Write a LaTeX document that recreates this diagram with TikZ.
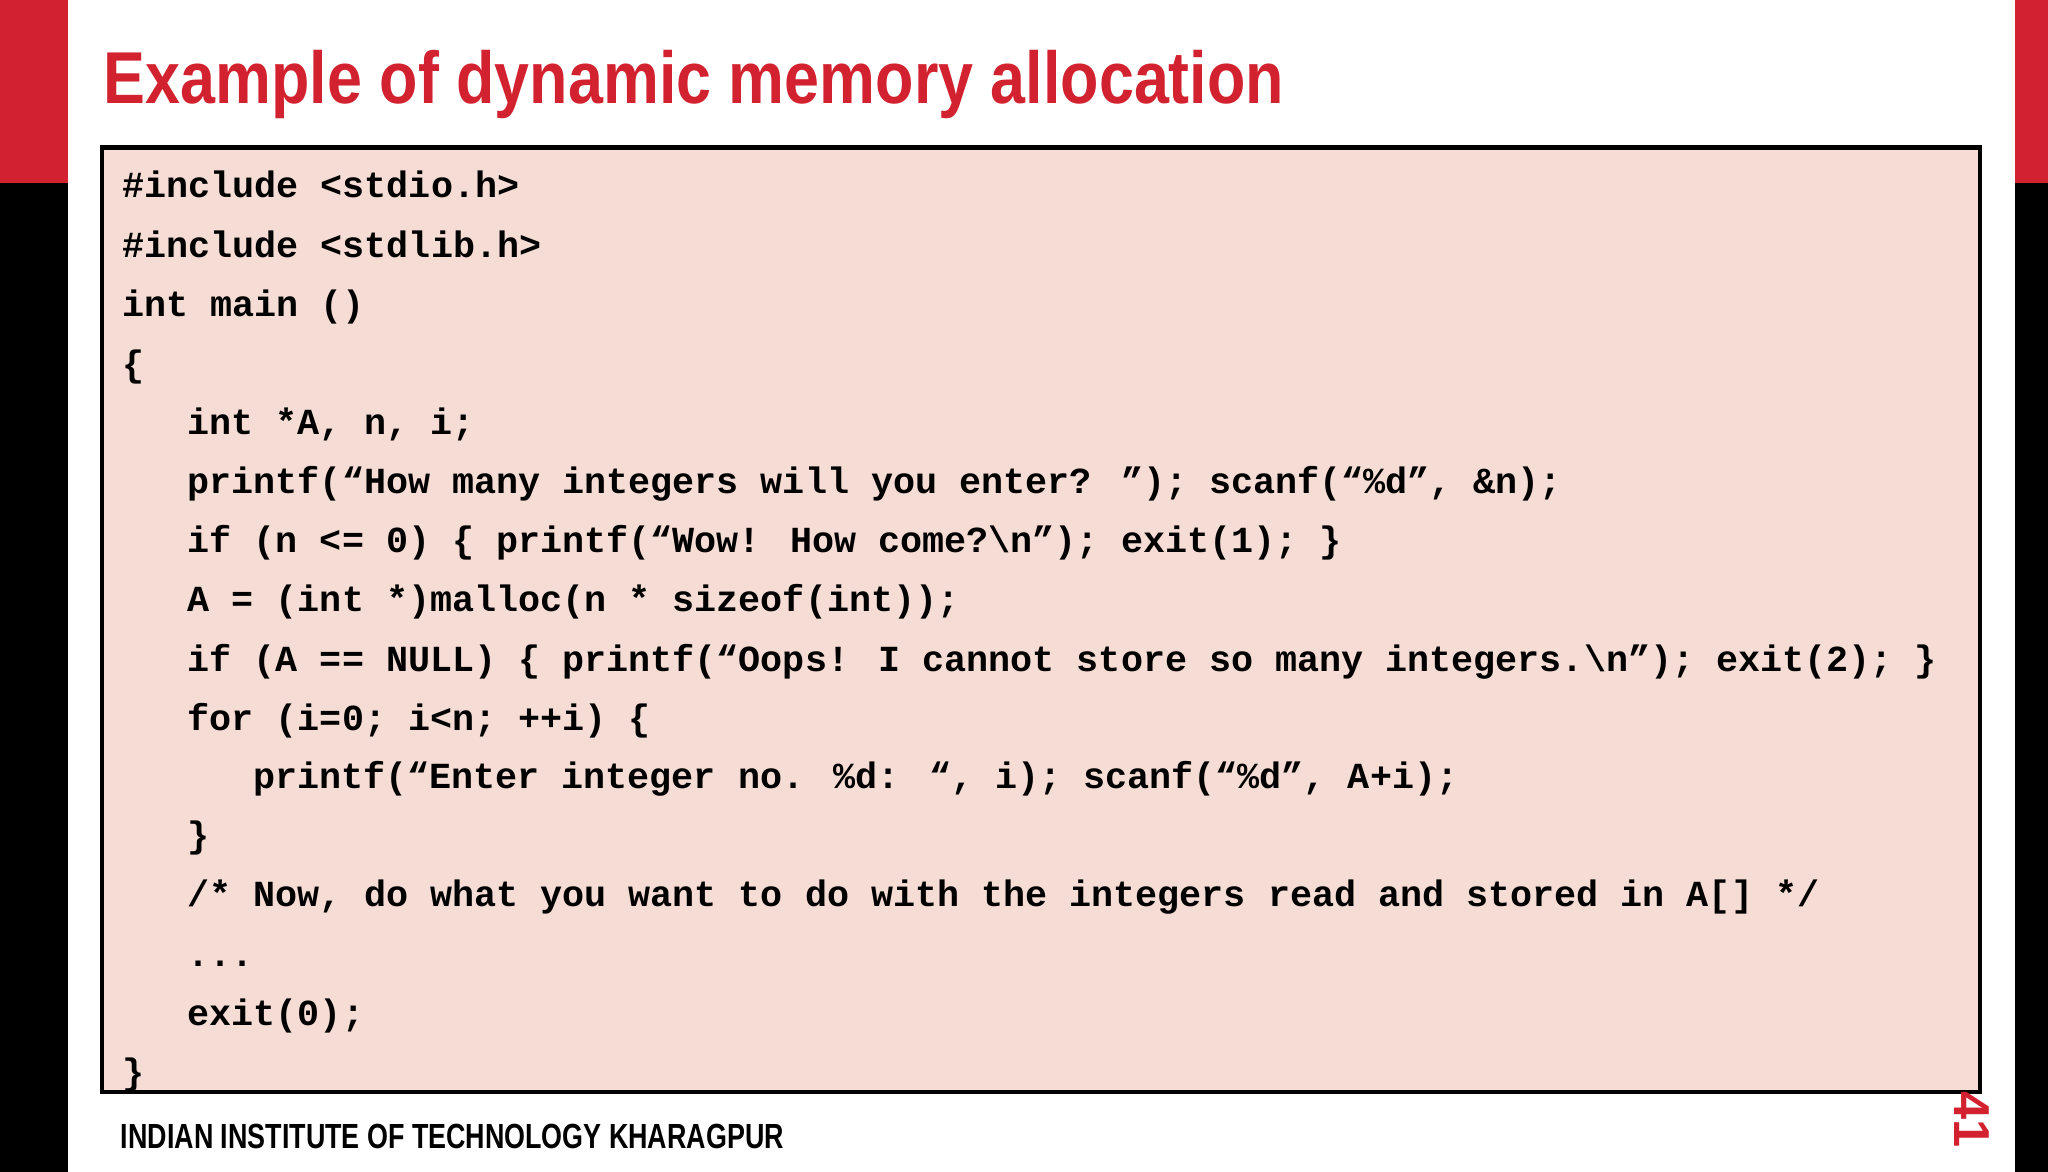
\documentclass[tikz,border=0pt]{standalone}
\usepackage{fontspec}
\setmainfont{Liberation Sans}
\newfontfamily\codefont{Liberation Mono}
\definecolor{slred}{HTML}{D3222F}
\definecolor{boxfill}{HTML}{F5DDD5}
\tikzset{codeline/.style={anchor=base west,inner sep=0pt,font=\codefont\bfseries\fontsize{8.0}{9}\selectfont}}
\begin{document}
\begin{tikzpicture}[x=0.01cm,y=-0.01cm]
\useasboundingbox (0,0) rectangle (1568,897);
\fill[white] (0,0) rectangle (1568,897);
\fill[black] (0,0) rectangle (52,897);
\fill[slred] (0,0) rectangle (52,140);
\fill[black] (1543,0) rectangle (1568,897);
\fill[slred] (1543,0) rectangle (1568,140);
\node[anchor=base west,inner sep=0pt,text=slred,font=\bfseries\fontsize{16}{18}\selectfont,xscale=0.855] (title) at (79,79) {Example of dynamic memory allocation};
\draw[black,line width=1pt,fill=boxfill] (78,113) rectangle (1516,836);
\node[codeline] (l1) at (93,151) {\#include <stdio.h>};
\node[codeline] (l2) at (93,197) {\#include <stdlib.h>};
\node[codeline] (l3) at (93,242) {int main ()};
\node[codeline] (l4) at (93,288) {\{};
\node[codeline] (l5) at (143,333) {int *A, n, i;};
\node[codeline] (l6) at (143,378) {printf(“How many integers will you enter? ”); scanf(“\%d”, \&n);};
\node[codeline] (l7) at (143,423) {if (n <= 0) \{ printf(“Wow! How come?\textbackslash n”); exit(1); \}};
\node[codeline] (l8) at (143,468) {A = (int *)malloc(n * sizeof(int));};
\node[codeline] (l9) at (143,514) {if (A == NULL) \{ printf(“Oops! I cannot store so many integers.\textbackslash n”); exit(2); \}};
\node[codeline] (l10) at (143,559) {for (i=0; i<n; ++i) \{};
\node[codeline] (l11) at (193,604) {printf(“Enter integer no. \%d: “, i); scanf(“\%d”, A+i);};
\node[codeline] (l12) at (143,649) {\}};
\node[codeline] (l13) at (143,694) {/* Now, do what you want to do with the integers read and stored in A[] */};
\node[codeline] (l14) at (143,740) {...};
\node[codeline] (l15) at (143,785) {exit(0);};
\node[codeline] (l16) at (93,830) {\}};
\node[anchor=base west,inner sep=0pt,font=\bfseries\fontsize{7.6}{9}\selectfont,xscale=0.77] (footer) at (92,879) {INDIAN INSTITUTE OF TECHNOLOGY KHARAGPUR};
\node[rotate=-90,inner sep=0pt,text=slred,font=\bfseries\fontsize{11}{12}\selectfont] (page) at (1510,857) {41};
\end{tikzpicture}
\end{document}
